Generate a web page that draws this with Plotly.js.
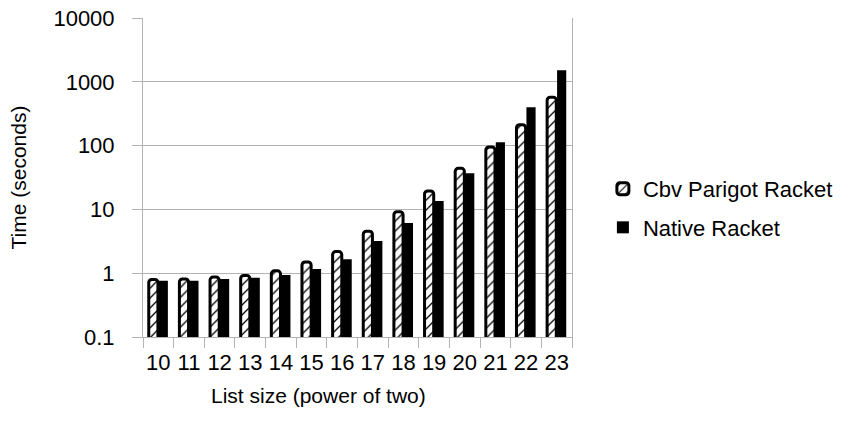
<!DOCTYPE html>
<html>
<head>
<meta charset="utf-8">
<script src="https://cdn.plot.ly/plotly-3.0.1.min.js"></script>
<style>
  html, body { margin: 0; padding: 0; background: #fff; }
  #chart { width: 855px; height: 425px; }
</style>
</head>
<body>
<div id="chart"></div>
<script>
// List sizes as powers of two (2^10 ... 2^23)
const listSizes = ['10', '11', '12', '13', '14', '15', '16', '17', '18', '19', '20', '21', '22', '23'];

// Run times in seconds
const cbvParigotTimes = [0.80, 0.81, 0.87, 0.92, 1.09, 1.50, 2.18, 4.54, 9.2, 19.4, 44, 95, 212, 574];
const nativeTimes     = [0.76, 0.76, 0.81, 0.85, 0.94, 1.16, 1.66, 3.2, 6.1, 13.5, 37, 113, 400, 1518];

// Y axis labels (log scale decades)
const yTickValues = [0.1, 1, 10, 100, 1000, 10000];
const yTickLabels = ['0.1', '1', '10', '100', '1000', '10000'];

const FONT = '"Liberation Sans", Arial, sans-serif';
const GRID = '#b3b3b3';

const traces = [
  {
    type: 'bar',
    name: 'Cbv Parigot Racket',
    x: listSizes,
    y: cbvParigotTimes,
    legendgroup: 'cbv',
    marker: {
      color: '#ffffff',
      line: { color: '#000000', width: 3 },
      cornerradius: 3,
      pattern: { shape: '/', fgcolor: '#000000', bgcolor: '#ffffff', size: 7, solidity: 0.18 }
    },
    hoverinfo: 'x+y'
  },
  {
    type: 'bar',
    name: 'Native Racket',
    x: listSizes,
    y: nativeTimes,
    legendgroup: 'native',
    marker: { color: '#000000', line: { color: '#000000', width: 0 } },
    hoverinfo: 'x+y'
  }
];

const layout = {
  width: 855,
  height: 425,
  margin: { l: 143, r: 283, t: 18, b: 88 },
  paper_bgcolor: '#ffffff',
  plot_bgcolor: '#ffffff',
  font: { family: FONT, color: '#000000', size: 22 },
  barmode: 'group',
  bargap: 0.35,
  bargroupgap: 0.08,
  showlegend: true,
  legend: {
    x: 1.072, xanchor: 'left',
    y: 0.53, yanchor: 'top',
    font: { family: FONT, size: 22, color: '#000000' },
    traceorder: 'grouped',
    tracegroupgap: 7,
    bgcolor: 'rgba(0,0,0,0)'
  },
  xaxis: {
    type: 'category',
    showgrid: false,
    showline: true,
    linecolor: GRID,
    linewidth: 1,
    ticks: 'outside',
    tickson: 'boundaries',
    ticklen: 10,
    tickcolor: GRID,
    tickangle: 0,
    ticklabelstandoff: 6,
    tickfont: { family: FONT, size: 22, color: '#000000' },
    zeroline: false
  },
  yaxis: {
    type: 'log',
    range: [-1, 4],
    tickvals: yTickValues,
    ticktext: yTickLabels,
    showgrid: true,
    gridcolor: GRID,
    gridwidth: 1,
    showline: true,
    mirror: true,
    linecolor: GRID,
    linewidth: 1,
    ticks: 'outside',
    ticklen: 10,
    tickcolor: GRID,
    ticklabelstandoff: 13,
    tickfont: { family: FONT, size: 22, color: '#000000' },
    zeroline: false,
    title: { text: 'Time (seconds)', font: { family: FONT, size: 21, color: '#000000' }, standoff: 21 }
  },
  annotations: [
    {
      text: 'List size (power of two)',
      xref: 'paper', yref: 'paper',
      x: (318 - 143) / 429, y: -0.184,
      xanchor: 'center', yanchor: 'middle',
      showarrow: false,
      font: { family: FONT, size: 21, color: '#000000' }
    }
  ]
};

Plotly.newPlot('chart', traces, layout, { staticPlot: true, displayModeBar: false });
</script>
</body>
</html>
